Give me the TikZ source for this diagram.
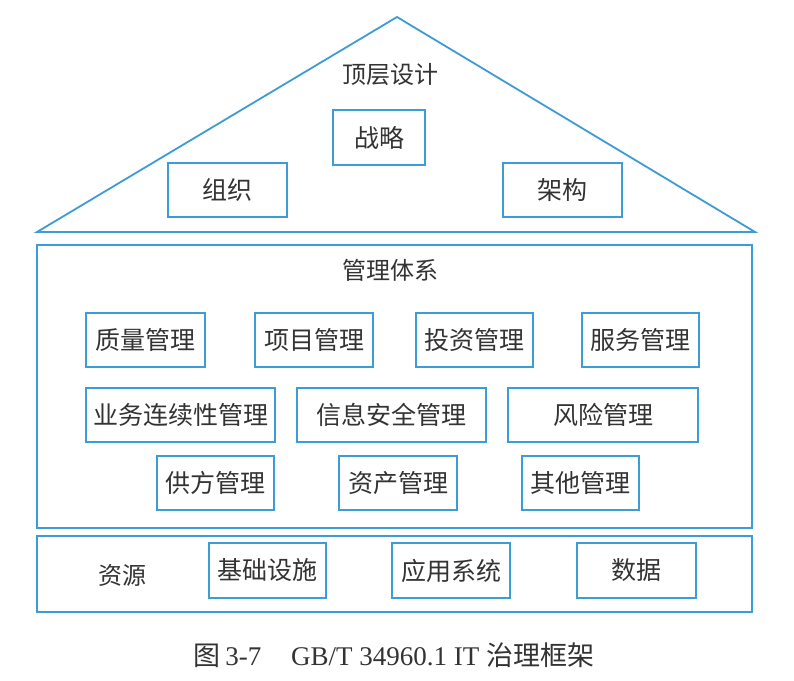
\documentclass[tikz,border=0pt]{standalone}
\usepackage{fontspec}
\setmainfont{Liberation Serif}
\newfontfamily\cjk{Noto Sans CJK SC}
\usepackage{tikz}
\definecolor{lineblue}{HTML}{3D9BD6}
\definecolor{inkgray}{HTML}{333333}
\tikzset{
	govbox/.style={draw=lineblue, line width=1.8pt, text=inkgray, inner sep=0pt,
		minimum height=54, font=\cjk\fontsize{25}{28}\selectfont},
	govlabel/.style={text=inkgray, inner sep=0pt, font=\cjk\fontsize{24}{28}\selectfont},
	frame/.style={draw=lineblue, line width=1.8pt}
}

\begin{document}
\begin{tikzpicture}[x=1pt, y=-1pt]
			%%%%% START %%%%%
			\useasboundingbox[fill=white] (0, 0) rectangle (794, 680);
			
			% roof
			\draw[frame, line join=miter] (37, 232) -- (397, 17) -- (755, 232) -- cycle;
			\node[govlabel] (top) at (390, 75) {顶层设计};
			\node[govbox, minimum width=92, minimum height=55] (strategy) at (379, 137.5) {战略};
			\node[govbox, minimum width=119] (org) at (227.5, 190) {组织};
			\node[govbox, minimum width=119] (arch) at (562.5, 190) {架构};
			
			% management system
			\draw[frame] (37, 245) rectangle (752, 528);
			\node[govlabel] (mgmt) at (390, 270) {管理体系};
			
			\node[govbox, minimum width=119] (quality) at (145.5, 340) {质量管理};
			\node[govbox, minimum width=118] (project) at (314, 340) {项目管理};
			\node[govbox, minimum width=117] (invest) at (474.5, 340) {投资管理};
			\node[govbox, minimum width=117] (service) at (640.5, 340) {服务管理};
			
			\node[govbox, minimum width=189] (continuity) at (180.5, 415) {业务连续性管理};
			\node[govbox, minimum width=189] (security) at (391.5, 415) {信息安全管理};
			\node[govbox, minimum width=190] (risk) at (603, 415) {风险管理};
			
			\node[govbox, minimum width=117] (supplier) at (215.5, 483) {供方管理};
			\node[govbox, minimum width=118] (asset) at (398, 483) {资产管理};
			\node[govbox, minimum width=117] (other) at (580.5, 483) {其他管理};
			
			% resources
			\draw[frame] (37, 536) rectangle (752, 612);
			\node[govlabel] (res) at (122, 575) {资源};
			\node[govbox, minimum width=117, minimum height=55] (infra) at (267.5, 570.5) {基础设施};
			\node[govbox, minimum width=118, minimum height=55] (apps) at (451, 570.5) {应用系统};
			\node[govbox, minimum width=119, minimum height=55] (data) at (636.5, 570.5) {数据};
			
			% caption
			\node[text=inkgray, inner sep=0pt, font=\fontsize{27}{30}\selectfont] (caption) at (394, 655)
				{{\cjk 图}\,3-7\hspace{1.1em}GB/T 34960.1 IT {\cjk 治理框架}};
			
			%%%%% END %%%%%
\end{tikzpicture}
\end{document}
